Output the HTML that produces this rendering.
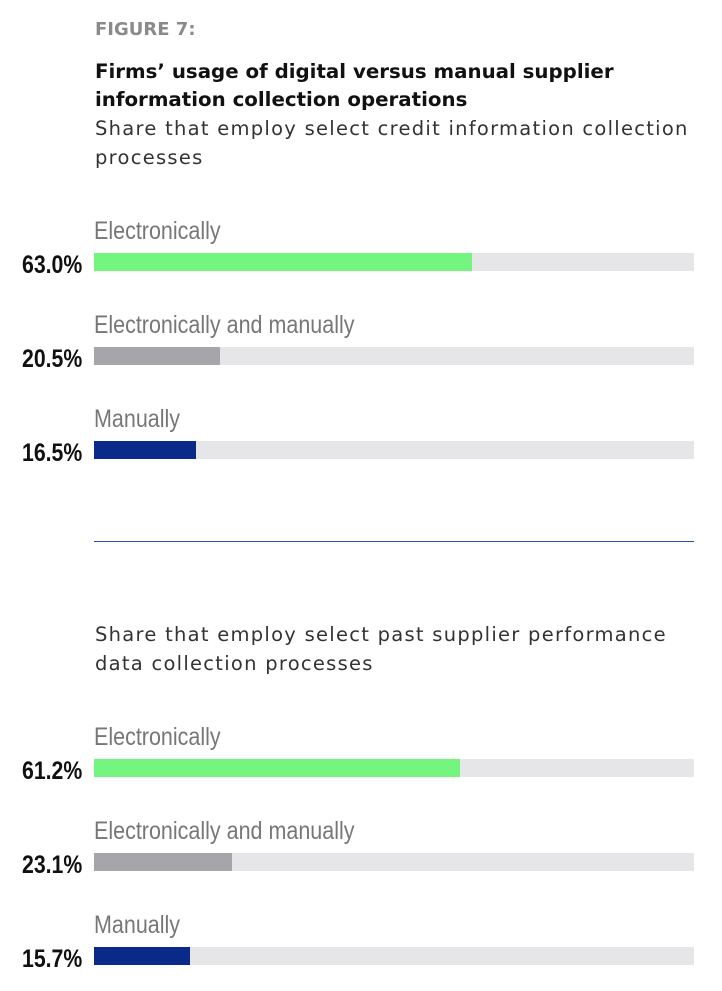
<!DOCTYPE html>
<html><head><meta charset="utf-8"><style>
body{margin:0;width:722px;height:991px;background:#fff;position:relative;overflow:hidden;font-family:"Liberation Sans",sans-serif}
.a{position:absolute;white-space:nowrap}
.fig{left:95px;top:19px;font-family:"DejaVu Sans",sans-serif;font-size:18px;font-weight:bold;color:#8a8a8c}
.t{left:95px;font-family:"DejaVu Sans",sans-serif;font-size:19.8px;font-weight:bold;color:#111;line-height:28px}
.s{left:95px;font-family:"DejaVu Sans",sans-serif;font-size:19.5px;color:#333;line-height:29px;letter-spacing:1.27px}
.lab{left:94px;font-size:25px;color:#777;transform:scaleX(0.86);transform-origin:left top}
.val{left:22px;font-size:25px;font-weight:bold;color:#111;transform:scaleX(0.85);transform-origin:left top}
.trk{left:94px;width:600px;height:18px;background:#e6e6e8}
.bar{position:absolute;left:0;top:0;height:18px}
</style></head><body>
<div class="a fig">FIGURE 7:</div>
<div class="a t" style="top:58px">Firms’ usage of digital versus manual supplier<br>information collection operations</div>
<div class="a s" style="top:114px">Share that employ select credit information collection<br>processes</div>

<div class="a lab" style="top:217px">Electronically</div>
<div class="a val" style="top:251px">63.0%</div>
<div class="a trk" style="top:253px"><div class="bar" style="width:378px;background:#73f57f"></div></div>

<div class="a lab" style="top:311px">Electronically and manually</div>
<div class="a val" style="top:345px">20.5%</div>
<div class="a trk" style="top:347px"><div class="bar" style="width:126px;background:#a6a6aa"></div></div>

<div class="a lab" style="top:405px">Manually</div>
<div class="a val" style="top:439px">16.5%</div>
<div class="a trk" style="top:441px"><div class="bar" style="width:102px;background:#0a2a8a"></div></div>

<div class="a" style="left:94px;top:541px;width:600px;height:1px;background:#3050a8"></div>

<div class="a s" style="top:620px">Share that employ select past supplier performance<br>data collection processes</div>

<div class="a lab" style="top:723px">Electronically</div>
<div class="a val" style="top:757px">61.2%</div>
<div class="a trk" style="top:759px"><div class="bar" style="width:366px;background:#73f57f"></div></div>

<div class="a lab" style="top:817px">Electronically and manually</div>
<div class="a val" style="top:851px">23.1%</div>
<div class="a trk" style="top:853px"><div class="bar" style="width:138px;background:#a6a6aa"></div></div>

<div class="a lab" style="top:911px">Manually</div>
<div class="a val" style="top:945px">15.7%</div>
<div class="a trk" style="top:947px"><div class="bar" style="width:96px;background:#0a2a8a"></div></div>
</body></html>
